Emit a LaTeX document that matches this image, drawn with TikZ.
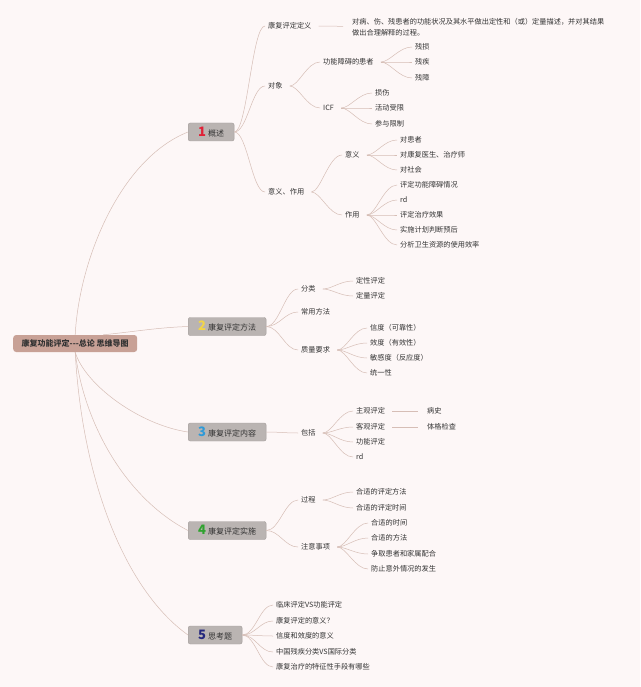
\documentclass[tikz,border=0pt]{standalone}
\usepackage{fontspec}
\setmainfont{Noto Sans CJK SC}
\definecolor{bgc}{HTML}{FDF7F7}
\definecolor{linec}{HTML}{D6BEB6}
\definecolor{topfill}{HTML}{BAB4B2}
\definecolor{topline}{HTML}{A39D9B}
\definecolor{mainfill}{HTML}{C8A196}
\definecolor{txt}{HTML}{333333}
\definecolor{nred}{HTML}{E02238}
\definecolor{nyellow}{HTML}{F2D548}
\definecolor{nblue}{HTML}{2F9AD8}
\definecolor{ngreen}{HTML}{2FA22F}
\definecolor{nnavy}{HTML}{25287E}
\newcommand\lf{\fontsize{7.2}{10.5}\selectfont}
\newcommand\tf{\fontsize{8}{10}\selectfont}
\newcommand\tnum[2]{{\fontsize{13}{13}\selectfont\bfseries\color{#1}#2}\hspace{2pt}}

\begin{document}
\begin{tikzpicture}[x=1pt,y=-1pt,
    leaf/.style={anchor=west,inner xsep=3pt,inner ysep=1pt,font=\lf,text=txt},
    topic/.style={anchor=west,draw=topline,fill=topfill,rounded corners=2pt,minimum height=18pt,inner xsep=10pt,inner ysep=0pt,font=\tf,text=txt},
    mainbox/.style={anchor=west,fill=mainfill,rounded corners=3pt,minimum width=124pt,minimum height=17pt,inner sep=0pt,font=\tf\bfseries,text=txt},
    branch/.style={draw=linec,line width=0.5pt},
    fan/.style={out=0,in=180,distance=13pt},
    subfan/.style={fan,shorten <=4pt},
    link/.style={shorten <=4pt,shorten >=6pt}]

    \fill[bgc] (0,0) rectangle (640,687);

    \node[mainbox] (main) at (13,343.5) {康复功能评定-{}-{}-总论 思维导图};

    \node[topic] (t1) at (188,132) {\tnum{nred}{1}概述};
    \node[topic] (t2) at (188,326.5) {\tnum{nyellow}{2}康复评定方法};
    \node[topic] (t3) at (188,432) {\tnum{nblue}{3}康复评定内容};
    \node[topic] (t4) at (188,530.5) {\tnum{ngreen}{4}康复评定实施};
    \node[topic] (t5) at (188,635) {\tnum{nnavy}{5}思考题};

    % 1 概述
    \node[leaf] (def) at (265,26) {康复评定定义};
    \node[leaf,align=left] (defd) at (349,27) {对病、伤、残患者的功能状况及其水平做出定性和（或）定量描述，并对其结果\\做出合理解释的过程。};
    \node[leaf] (obj) at (265,86) {对象};
    \node[leaf] (pat) at (320,62) {功能障碍的患者};
    \node[leaf] (cs) at (412,47) {残损};
    \node[leaf] (cj) at (412,62) {残疾};
    \node[leaf] (cz) at (412,78) {残障};
    \node[leaf] (icf) at (320,108) {ICF};
    \node[leaf] (ss) at (372,93) {损伤};
    \node[leaf] (hd) at (372,108) {活动受限};
    \node[leaf] (cy) at (372,124) {参与限制};
    \node[leaf] (role) at (265,192) {意义、作用};
    \node[leaf] (sig) at (342,155) {意义};
    \node[leaf] (s1) at (397,140) {对患者};
    \node[leaf] (s2) at (397,155) {对康复医生、治疗师};
    \node[leaf] (s3) at (397,170) {对社会};
    \node[leaf] (use) at (342,215) {作用};
    \node[leaf] (u1) at (397,185) {评定功能障碍情况};
    \node[leaf] (u2) at (397,200) {rd};
    \node[leaf] (u3) at (397,215) {评定治疗效果};
    \node[leaf] (u4) at (397,230) {实施计划判断预后};
    \node[leaf] (u5) at (397,245) {分析卫生资源的使用效率};

    % 2 康复评定方法
    \node[leaf] (cls) at (298,289) {分类};
    \node[leaf] (c1) at (353,281) {定性评定};
    \node[leaf] (c2) at (353,296) {定量评定};
    \node[leaf] (com) at (298,312) {常用方法};
    \node[leaf] (qual) at (298,350) {质量要求};
    \node[leaf] (q1) at (367,328) {信度（可靠性）};
    \node[leaf] (q2) at (367,343) {效度（有效性）};
    \node[leaf] (q3) at (367,358) {敏感度（反应度）};
    \node[leaf] (q4) at (367,373) {统一性};

    % 3 康复评定内容
    \node[leaf] (inc) at (298,433) {包括};
    \node[leaf] (i1) at (353,411) {主观评定};
    \node[leaf] (h1) at (424,411) {病史};
    \node[leaf] (i2) at (353,427) {客观评定};
    \node[leaf] (h2) at (424,427) {体格检查};
    \node[leaf] (i3) at (353,442) {功能评定};
    \node[leaf] (i4) at (353,457) {rd};

    % 4 康复评定实施
    \node[leaf] (proc) at (298,500) {过程};
    \node[leaf] (p1) at (353,492) {合适的评定方法};
    \node[leaf] (p2) at (353,508) {合适的评定时间};
    \node[leaf] (note) at (298,547) {注意事项};
    \node[leaf] (n1) at (368,523) {合适的时间};
    \node[leaf] (n2) at (368,538) {合适的方法};
    \node[leaf] (n3) at (368,554) {争取患者和家属配合};
    \node[leaf] (n4) at (368,569) {防止意外情况的发生};

    % 5 思考题
    \node[leaf] (k1) at (273,605) {临床评定VS功能评定};
    \node[leaf] (k2) at (273,621) {康复评定的意义？};
    \node[leaf] (k3) at (273,636) {信度和效度的意义};
    \node[leaf] (k4) at (273,652) {中国残疾分类VS国际分类};
    \node[leaf] (k5) at (273,667) {康复治疗的特征性手段有哪些};

    % root to topics
    \draw[branch] (main.north) .. controls +(4,-75) and +(-68,27) .. (t1.west);
    \draw[branch] ([xshift=28pt]main.north) .. controls +(30,-3) and +(-30,1) .. (t2.west);
    \draw[branch] (main.south) .. controls +(10,33) and +(-48,-7) .. (t3.west);
    \draw[branch] (main.south) .. controls +(10,78) and +(-58,-30) .. (t4.west);
    \draw[branch] (main.south) .. controls +(7,128) and +(-63,-45) .. (t5.west);

    \path[branch] (t1) edge[fan] (def)
                       edge[fan] (obj)
                       edge[fan] (role)
                  (def) edge[link] (defd)
                  (obj) edge[subfan] (pat)
                        edge[subfan] (icf)
                  (pat) edge[subfan] (cs)
                        edge[subfan] (cj)
                        edge[subfan] (cz)
                  (icf) edge[subfan] (ss)
                        edge[subfan] (hd)
                        edge[subfan] (cy)
                  (role) edge[subfan] (sig)
                         edge[subfan] (use)
                  (sig) edge[subfan] (s1)
                        edge[subfan] (s2)
                        edge[subfan] (s3)
                  (use) edge[subfan] (u1)
                        edge[subfan] (u2)
                        edge[subfan] (u3)
                        edge[subfan] (u4)
                        edge[subfan] (u5);

    \path[branch] (t2) edge[fan] (cls)
                       edge[fan] (com)
                       edge[fan] (qual)
                  (cls) edge[subfan] (c1)
                        edge[subfan] (c2)
                  (qual) edge[subfan] (q1)
                         edge[subfan] (q2)
                         edge[subfan] (q3)
                         edge[subfan] (q4);

    \path[branch] (t3) edge[fan] (inc)
                  (inc) edge[subfan] (i1)
                        edge[subfan] (i2)
                        edge[subfan] (i3)
                        edge[subfan] (i4)
                  (i1) edge[link] (h1)
                  (i2) edge[link] (h2);

    \path[branch] (t4) edge[fan] (proc)
                       edge[fan] (note)
                  (proc) edge[subfan] (p1)
                         edge[subfan] (p2)
                  (note) edge[subfan] (n1)
                         edge[subfan] (n2)
                         edge[subfan] (n3)
                         edge[subfan] (n4);

    \path[branch] (t5) edge[fan] (k1)
                       edge[fan] (k2)
                       edge[fan] (k3)
                       edge[fan] (k4)
                       edge[fan] (k5);

\end{tikzpicture}
\end{document}
